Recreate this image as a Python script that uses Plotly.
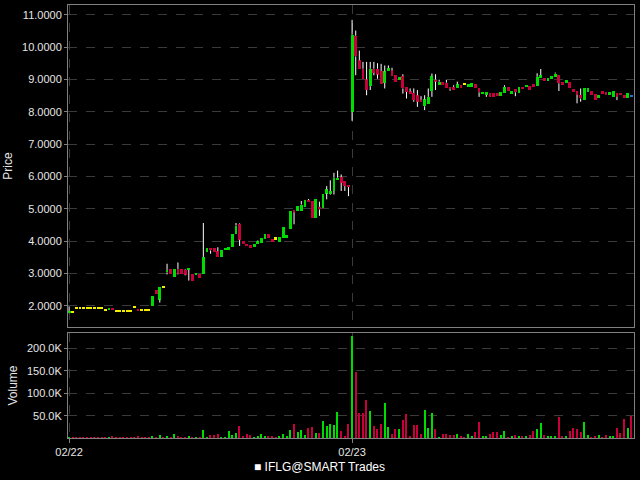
import plotly.graph_objects as go

# 5-minute bars, two sessions of 78 bars each (02/22, 02/23)
day_labels = ["02/22", "02/23"]
bars_per_day = 78
series_name = "IFLG@SMART Trades"

opens = [
    1.78, 1.80, 1.94, 1.94, 1.94, 1.94, 1.94, 1.93, 1.93, 1.93,
    1.88, 1.88, 1.94, 1.83, 1.83, 1.83, 1.83, 1.83, 1.95, 1.89,
    1.86, 1.86, 1.86, 1.99, 2.48, 2.19, 2.57, 3.03, 3.13, 2.89,
    3.14, 3.14, 3.11, 3.11, 2.97, 2.94, 2.98, 2.97, 3.65, 3.79,
    3.79, 3.69, 3.50, 3.71, 3.74, 3.81, 4.21, 4.54, 4.00, 3.92,
    3.87, 3.81, 3.90, 3.95, 4.08, 4.21, 4.07, 4.08, 3.98, 4.10,
    4.10, 4.36, 4.96, 4.93, 4.93, 5.05, 5.27, 5.24, 4.72, 5.06,
    5.01, 5.47, 5.46, 5.55, 5.89, 5.98, 5.86, 5.75,
    8.00, 10.35, 9.59, 9.33, 9.00, 8.79, 9.33, 9.33, 9.26, 8.89,
    9.25, 9.28, 9.13, 8.97, 9.10, 8.77, 8.63, 8.58, 8.51, 8.38,
    8.17, 8.24, 8.64, 8.99, 8.82, 8.91, 8.90, 8.77, 8.77, 8.74,
    8.82, 8.86, 8.77, 8.77, 8.85, 8.72, 8.54, 8.52, 8.57, 8.57,
    8.57, 8.49, 8.57, 8.77, 8.54, 8.69, 8.57, 8.77, 8.75, 8.79,
    8.85, 8.80, 9.05, 9.05, 8.95, 9.01, 9.08, 9.15, 8.93, 8.88,
    8.91, 8.69, 8.64, 8.52, 8.36, 8.62, 8.64, 8.54, 8.41, 8.62,
    8.62, 8.54, 8.46, 8.59, 8.57, 8.52, 8.43, 8.49,
]
highs = [
    1.98, 1.80, 1.94, 1.94, 1.94, 1.94, 1.94, 1.93, 1.93, 1.93,
    1.88, 1.94, 1.94, 1.83, 1.83, 1.83, 1.83, 1.83, 1.95, 1.89,
    1.86, 1.86, 1.86, 2.29, 2.48, 2.59, 2.57, 3.30, 3.13, 3.14,
    3.34, 3.14, 3.13, 3.18, 2.97, 3.02, 2.98, 4.56, 3.79, 3.79,
    3.79, 3.81, 3.74, 3.78, 3.81, 4.21, 4.56, 4.56, 4.00, 3.92,
    3.87, 3.92, 4.02, 4.10, 4.21, 4.21, 4.07, 4.08, 4.12, 4.43,
    4.18, 4.94, 4.96, 5.08, 5.24, 5.27, 5.30, 5.24, 5.29, 5.22,
    5.47, 5.70, 5.88, 6.11, 6.18, 6.06, 5.86, 5.75,
    10.84, 10.51, 9.89, 9.54, 9.54, 9.54, 9.54, 9.50, 9.48, 9.43,
    9.43, 9.36, 9.13, 9.07, 9.16, 8.77, 8.72, 8.72, 8.67, 8.48,
    8.51, 8.72, 9.18, 9.16, 8.99, 8.91, 8.98, 8.77, 8.82, 8.93,
    8.82, 8.86, 8.85, 8.88, 8.85, 8.72, 8.62, 8.60, 8.57, 8.57,
    8.57, 8.62, 8.82, 8.77, 8.64, 8.69, 8.77, 8.77, 8.82, 8.79,
    8.85, 9.19, 9.32, 9.05, 9.03, 9.10, 9.21, 9.15, 8.93, 8.98,
    8.91, 8.69, 8.64, 8.72, 8.72, 8.72, 8.64, 8.54, 8.52, 8.62,
    8.62, 8.59, 8.64, 8.59, 8.57, 8.52, 8.57, 8.49,
]
lows = [
    1.76, 1.80, 1.94, 1.94, 1.94, 1.94, 1.94, 1.93, 1.93, 1.93,
    1.88, 1.88, 1.88, 1.83, 1.83, 1.83, 1.83, 1.83, 1.95, 1.83,
    1.86, 1.86, 1.86, 1.99, 2.35, 2.10, 2.57, 2.97, 2.97, 2.89,
    2.97, 2.98, 2.94, 2.78, 2.76, 2.94, 2.86, 2.97, 3.65, 3.61,
    3.65, 3.50, 3.50, 3.71, 3.74, 3.81, 4.21, 3.85, 3.90, 3.84,
    3.78, 3.81, 3.90, 3.95, 4.08, 4.10, 3.98, 4.08, 3.98, 4.10,
    4.10, 4.36, 4.52, 4.93, 4.93, 5.05, 5.20, 4.72, 4.72, 4.78,
    5.01, 5.29, 5.44, 5.44, 5.89, 5.55, 5.55, 5.39,
    7.72, 9.13, 9.33, 9.00, 8.51, 8.67, 9.13, 9.02, 8.87, 8.72,
    9.25, 9.10, 8.92, 8.97, 8.56, 8.41, 8.56, 8.31, 8.15, 8.31,
    8.05, 8.24, 8.46, 8.67, 8.82, 8.83, 8.72, 8.65, 8.67, 8.74,
    8.74, 8.86, 8.77, 8.77, 8.74, 8.46, 8.54, 8.46, 8.46, 8.46,
    8.49, 8.49, 8.57, 8.64, 8.54, 8.48, 8.57, 8.72, 8.75, 8.67,
    8.77, 8.80, 9.05, 8.95, 8.95, 9.01, 9.08, 8.64, 8.82, 8.88,
    8.72, 8.62, 8.26, 8.31, 8.36, 8.62, 8.52, 8.36, 8.41, 8.57,
    8.52, 8.54, 8.46, 8.36, 8.52, 8.43, 8.43, 8.49,
]
closes = [
    1.82, 1.80, 1.94, 1.94, 1.94, 1.94, 1.94, 1.93, 1.93, 1.93,
    1.88, 1.94, 1.88, 1.83, 1.83, 1.83, 1.83, 1.83, 1.95, 1.83,
    1.86, 1.86, 1.86, 2.29, 2.35, 2.59, 2.57, 3.11, 2.97, 3.14,
    2.99, 2.98, 2.96, 3.18, 2.76, 3.02, 2.86, 3.51, 3.79, 3.71,
    3.65, 3.50, 3.74, 3.78, 3.81, 4.21, 4.48, 4.04, 3.90, 3.84,
    3.78, 3.92, 4.00, 4.10, 4.21, 4.10, 3.98, 4.08, 4.12, 4.43,
    4.18, 4.94, 4.88, 5.08, 5.13, 5.27, 5.20, 4.72, 5.29, 4.98,
    5.47, 5.60, 5.55, 5.96, 5.96, 5.80, 5.70, 5.67,
    10.38, 9.71, 9.33, 9.00, 8.67, 9.33, 9.20, 9.15, 8.87, 9.25,
    9.35, 9.10, 8.92, 9.07, 8.72, 8.61, 8.56, 8.36, 8.31, 8.31,
    8.38, 8.46, 9.10, 8.93, 8.93, 8.83, 8.72, 8.70, 8.67, 8.85,
    8.74, 8.86, 8.85, 8.88, 8.74, 8.60, 8.62, 8.60, 8.46, 8.46,
    8.49, 8.62, 8.77, 8.64, 8.64, 8.60, 8.77, 8.72, 8.82, 8.67,
    8.77, 9.08, 9.13, 8.95, 9.03, 9.10, 9.18, 8.88, 8.82, 8.98,
    8.72, 8.62, 8.52, 8.41, 8.72, 8.72, 8.52, 8.36, 8.52, 8.57,
    8.52, 8.59, 8.64, 8.46, 8.52, 8.43, 8.57, 8.49,
]
volumes = [
    2000, 500, 500, 500, 500, 500, 500, 500, 500, 500,
    500, 800, 5000, 500, 500, 500, 500, 500, 500, 3000,
    500, 500, 500, 3000, 1000, 7000, 1000, 5000, 1500, 10000,
    5000, 2000, 1500, 5000, 2000, 1000, 1000, 18000, 1500, 7000,
    7000, 10000, 1500, 2000, 16000, 7000, 11000, 27000, 4000, 10000,
    6000, 2000, 4000, 10000, 4000, 3000, 3000, 1000, 5000, 10000,
    3000, 18000, 32000, 14000, 18000, 7000, 22000, 25000, 11000, 11000,
    38000, 27000, 32000, 28000, 58000, 16000, 5000, 31000,
    229000, 147000, 56000, 57000, 86000, 61000, 26000, 20000, 32000, 78000,
    25000, 9000, 21000, 21000, 41000, 54000, 5000, 28000, 30000, 9000,
    63000, 22000, 56000, 20000, 2000, 10000, 10000, 7000, 6000, 10000,
    3000, 500, 9000, 4000, 14000, 35000, 3000, 3000, 10000, 13000,
    14000, 6000, 16000, 2000, 3000, 7000, 5000, 3000, 5000, 7000,
    16000, 21000, 34000, 7000, 3000, 5000, 5000, 48000, 3000, 3000,
    16000, 23000, 21000, 13000, 36000, 6000, 2000, 5000, 6000, 2000,
    7000, 3000, 3000, 22000, 11000, 43000, 23000, 50000,
]
price_ticks = [2, 3, 4, 5, 6, 7, 8, 9, 10, 11]
volume_ticks = [50000, 100000, 150000, 200000]
volume_tick_labels = ["50.0K", "100.0K", "150.0K", "200.0K"]

UP = "#00dc00"
DOWN = "#c8003c"
FLAT = "#f0f000"
LAST = "#2a6fd0"
FRAME = "#808080"
GRID = "#3a3a3a"
TEXT = "#e6e6e6"

idx = list(range(len(opens)))
n = len(idx)

body_colors = []
body_base = []
body_height = []
vol_colors = []
min_body = 0.065
for i in idx:
    o, c = opens[i], closes[i]
    if c > o:
        col = UP
    elif c < o:
        col = DOWN
    else:
        col = LAST if i == n - 1 else FLAT
    body_colors.append(col)
    h = max(abs(c - o), min_body)
    body_base.append((o + c) / 2 - h / 2)
    body_height.append(h)
    vol_colors.append(UP if c > o else DOWN)

# wicks split above / below the body so the bars (drawn under scatter) stay visible
wick_x, wick_y = [], []
for i in idx:
    top = body_base[i] + body_height[i]
    bot = body_base[i]
    if highs[i] > top:
        wick_x += [i, i, None]
        wick_y += [top, highs[i], None]
    if lows[i] < bot:
        wick_x += [i, i, None]
        wick_y += [lows[i], bot, None]

fig = go.Figure()
fig.add_trace(go.Bar(
    x=idx, y=body_height, base=body_base,
    marker=dict(color=body_colors, line_width=0),
    width=0.78, showlegend=False,
    xaxis="x", yaxis="y",
))
fig.add_trace(go.Scatter(
    x=wick_x, y=wick_y, mode="lines",
    line=dict(color="#ffffff", width=1),
    hoverinfo="skip", showlegend=False,
    xaxis="x", yaxis="y",
))
fig.add_trace(go.Bar(
    x=idx, y=volumes,
    marker=dict(color=vol_colors, line_width=0),
    width=0.36, showlegend=False,
    xaxis="x2", yaxis="y2",
))

day_ticks = [k * bars_per_day for k in range(len(day_labels))]
x_range = [-0.3, n - 0.3]

axis_common = dict(
    showline=True, mirror=True, linecolor=FRAME, linewidth=1,
    showgrid=True, gridcolor=GRID, griddash="dash", gridwidth=1,
    zeroline=False, automargin=False,
    tickfont=dict(color=TEXT, size=11),
    tickcolor=FRAME, ticklen=3,
)

fig.update_layout(
    width=640, height=480,
    paper_bgcolor="#000000", plot_bgcolor="#000000",
    font=dict(family="Liberation Sans, Arial, sans-serif", color=TEXT, size=11),
    margin=dict(l=68, r=6, t=5, b=42, autoexpand=False),
    barmode="overlay",
    bargap=0,
    showlegend=False,
    xaxis=dict(
        axis_common, domain=[0, 1], anchor="y", range=x_range,
        tickvals=day_ticks, showticklabels=False, ticks="",
    ),
    xaxis2=dict(
        axis_common, domain=[0, 1], anchor="y2", range=x_range, matches="x",
        tickvals=day_ticks, ticktext=day_labels, ticks="outside", ticklen=4,
    ),
    yaxis=dict(
        axis_common, domain=[0.2564, 1], anchor="x", range=[1.345, 11.30],
        tickvals=price_ticks, tickformat=".4f", ticks="outside",
        title=dict(text="Price", font=dict(color=TEXT, size=12), standoff=6),
    ),
    yaxis2=dict(
        axis_common, domain=[0, 0.2425], anchor="x2", range=[0, 235000],
        tickvals=volume_ticks, ticktext=volume_tick_labels, ticks="outside",
        title=dict(text="Volume", font=dict(color=TEXT, size=12), standoff=6),
    ),
)

# series key under the chart, centred on the page
fig.add_annotation(
    text="\u25a0 " + series_name,
    xref="paper", yref="paper", x=0.4452, y=-0.067,
    xanchor="center", yanchor="middle", showarrow=False,
    font=dict(color="#ffffff", size=12),
)

# drop the default page margin so the 640x480 figure fills the window
fig.write_html(
    "out.html",
    config={"displayModeBar": False},
    post_script="document.body.style.margin='0';document.body.style.background='#000';",
)
